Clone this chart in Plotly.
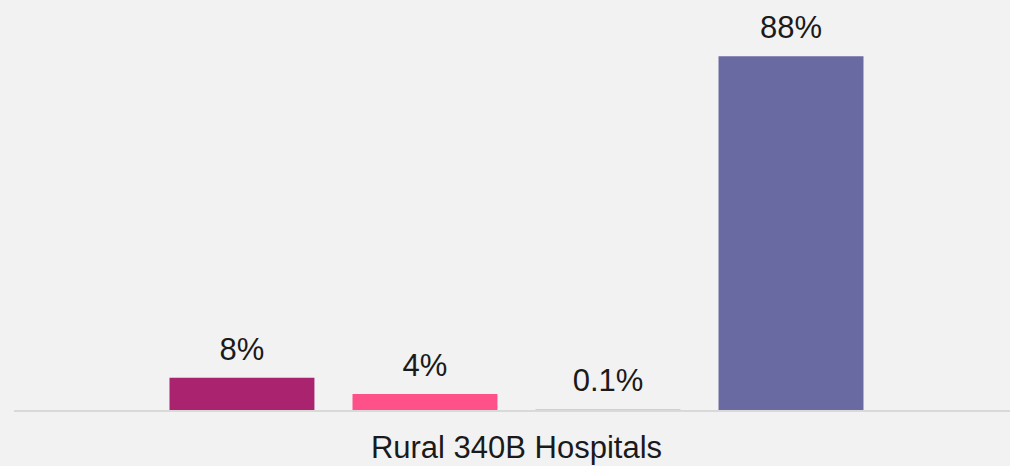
import plotly.graph_objects as go

category = ["Rural 340B Hospitals"]
series_names = ["Series A", "Series B", "Series C", "Series D"]
series_values = [8, 4, 0.1, 88]
series_labels = ["8%", "4%", "0.1%", "88%"]
colors = ["#a9236f", "#ff5189", "#dccbc6", "#6a6aa2"]

fig = go.Figure()
for name, val, lab, col in zip(series_names, series_values, series_labels, colors):
    fig.add_trace(go.Bar(
        x=category, y=[val], name=name, marker_color=col,
        text=["<span style='font-size:31px'>" + lab + "</span><br>&nbsp;"],
        textposition="outside", cliponaxis=False,
        textfont=dict(family="Liberation Sans", size=10, color="#1a1a1a"),
        marker_line_width=0,
    ))

fig.update_layout(
    width=1010, height=466,
    margin=dict(l=14, r=0, t=0, b=56),
    paper_bgcolor="#f2f2f2", plot_bgcolor="#f2f2f2",
    barmode="group", bargap=0.265, bargroupgap=0.208,
    showlegend=False,
    font=dict(family="Liberation Sans", color="#1a1a1a"),
    xaxis=dict(showline=True, linecolor="#d9d9d9", linewidth=2, ticks="",
               tickfont=dict(size=31, color="#1a1a1a"), showgrid=False,
               range=[-0.5045, 0.4955], ticklabelstandoff=9),
    yaxis=dict(visible=False, range=[0, 102], showgrid=False, zeroline=False),
)
fig.write_html("out.html", config={"displayModeBar": False},
               post_script="document.body.style.margin='0';")
